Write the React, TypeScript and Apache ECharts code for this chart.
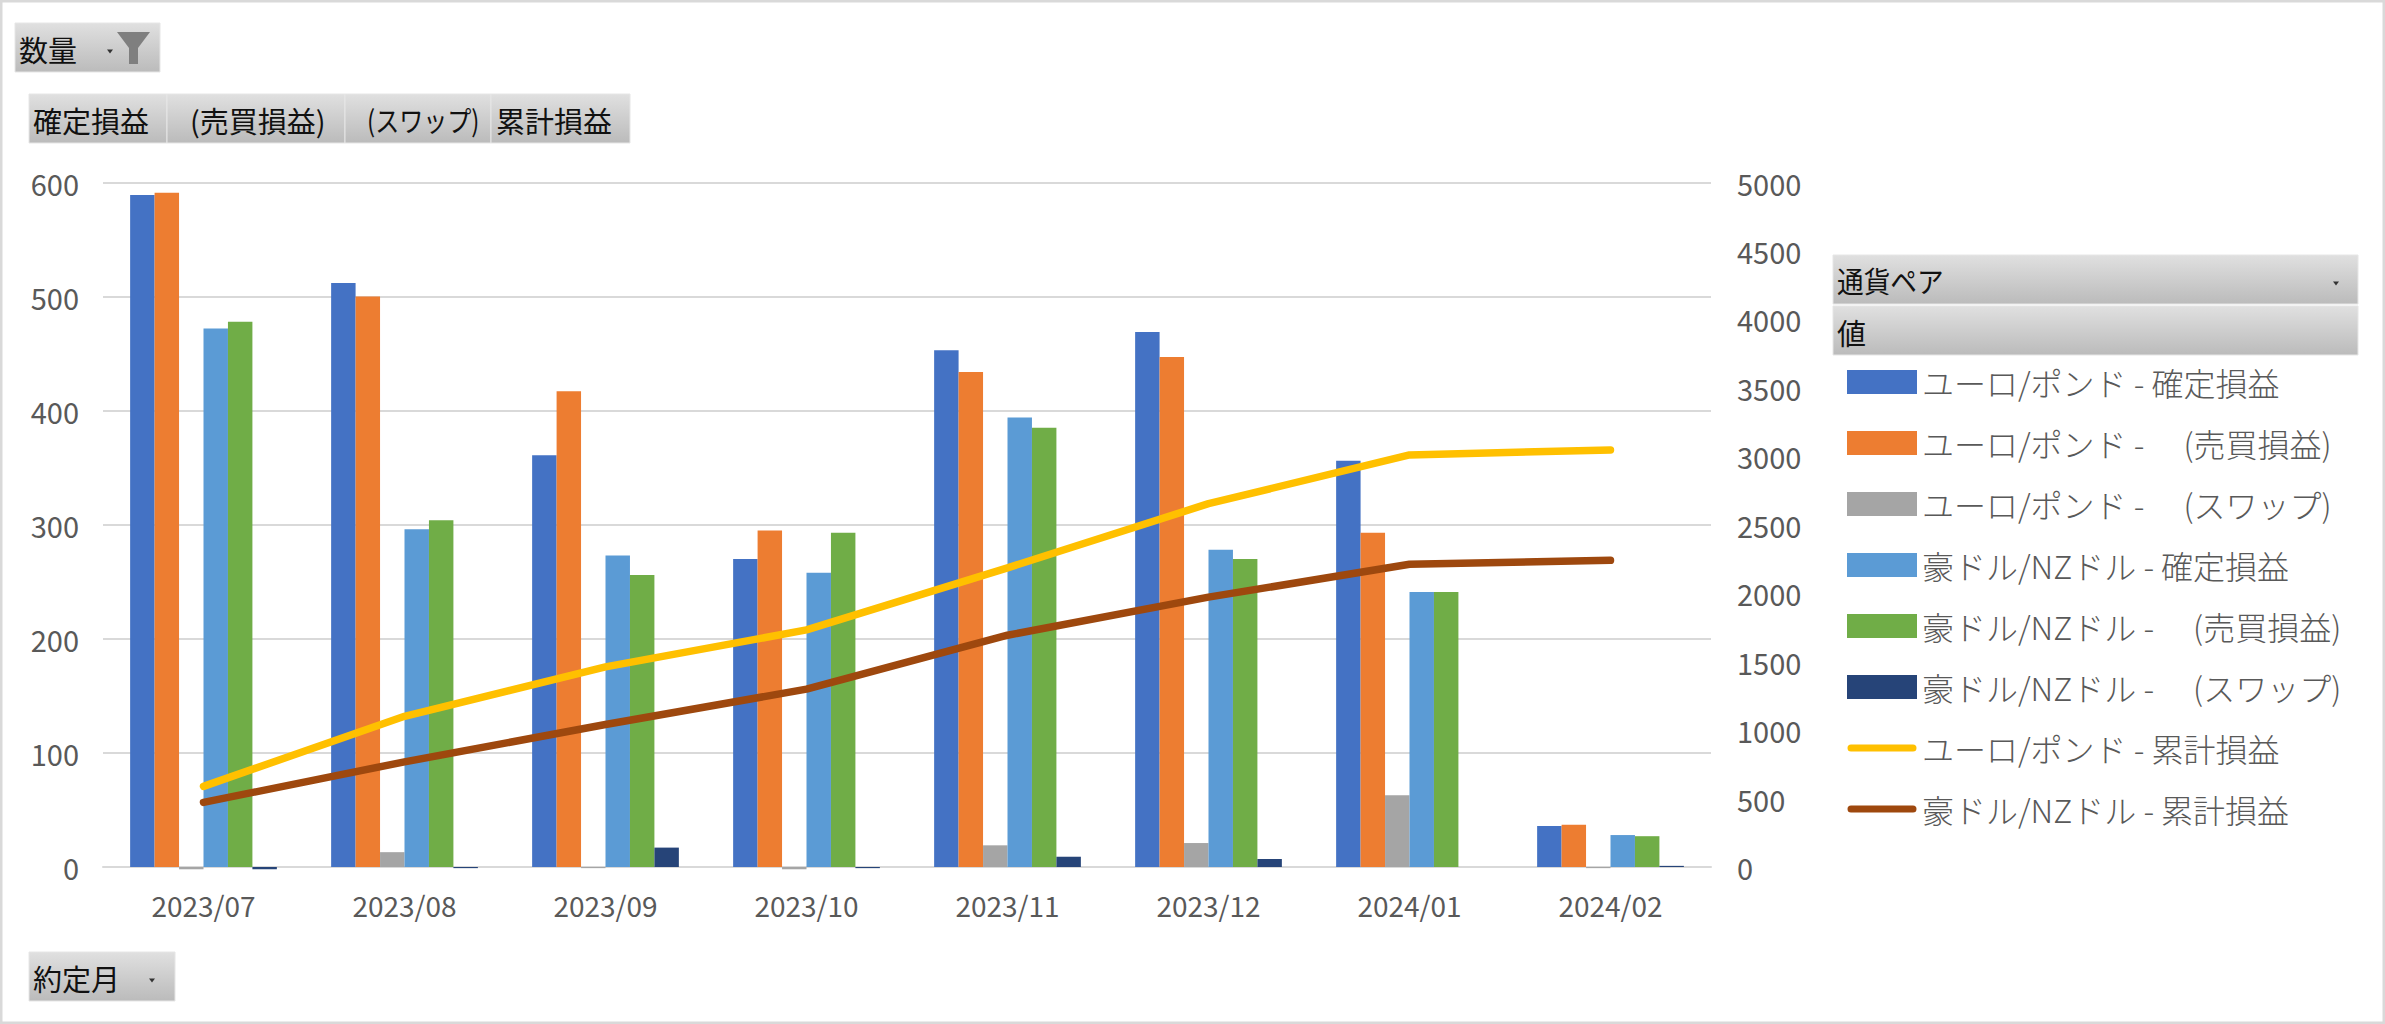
import React, { useEffect, useRef } from "react";
import * as echarts from "echarts";

const months = ["2023/07", "2023/08", "2023/09", "2023/10", "2023/11", "2023/12", "2024/01", "2024/02"];
const eurRealized = [589, 512, 361, 270, 453, 469, 356, 36];
const eurTrade = [591, 500, 417, 295, 434, 447, 293, 37];
const eurSwap = [-2, 13, -1, -2, 19, 21, 63, -1];
const audRealized = [472, 296, 273, 258, 394, 278, 241, 28];
const audTrade = [478, 304, 256, 293, 385, 270, 241, 27];
const audSwap = [-2, -1, 17, -1, 9, 7, 0, 1];
const eurCumulative = [589, 1101, 1462, 1732, 2185, 2654, 3010, 3046];
const audCumulative = [472, 768, 1041, 1299, 1693, 1971, 2212, 2240];

const FONT = '"Noto Sans CJK JP", "Noto Sans", sans-serif';

const barDefs: [string, number[], string][] = [
  ["ユーロ/ポンド - 確定損益", eurRealized, "#4472c4"],
  ["ユーロ/ポンド -　 (売買損益)", eurTrade, "#ed7d31"],
  ["ユーロ/ポンド -　 (スワップ)", eurSwap, "#a5a5a5"],
  ["豪ドル/NZドル - 確定損益", audRealized, "#5b9bd5"],
  ["豪ドル/NZドル -　 (売買損益)", audTrade, "#70ad47"],
  ["豪ドル/NZドル -　 (スワップ)", audSwap, "#264478"],
];
const lineDefs: [string, number[], string][] = [
  ["ユーロ/ポンド - 累計損益", eurCumulative, "#ffc000"],
  ["豪ドル/NZドル - 累計損益", audCumulative, "#9e480e"],
];

// Legend glyph: a thick rounded stroke centred in the swatch box; the two empty
// sub-paths hold the bounding box open so that the glyph is not stretched to fill it.
const LINE_ICON =
  "path://M0 0L0 0ZM4 8.5L66 8.5A3.5 3.5 0 0 1 66 15.5L4 15.5A3.5 3.5 0 0 1 4 8.5ZM70 24L70 24Z";

const grad = () =>
  new echarts.graphic.LinearGradient(0, 0, 0, 1, [
    { offset: 0, color: "#e0e0e0" },
    { offset: 1, color: "#bbbbbb" },
  ]);

function button(x: number, y: number, w: number, h: number, label: string, textX: number, arrowX?: number, sx = 1) {
  const els: any[] = [
    { type: "rect", shape: { x, y, width: w, height: h }, style: { fill: grad(), stroke: "#e6e6e6", lineWidth: 1 }, silent: true },
    {
      type: "text",
      x: textX,
      y: y + h / 2 + 1,
      scaleX: sx,
      style: { text: label, font: `29px ${FONT}`, fill: "#111111", textAlign: "left", textVerticalAlign: "middle" },
      silent: true,
    },
  ];
  if (arrowX !== undefined) {
    const ay = y + h / 2 + 4;
    els.push({
      type: "polygon",
      shape: { points: [[arrowX - 3, ay - 2], [arrowX + 3, ay - 2], [arrowX, ay + 2]] },
      style: { fill: "#333333" },
      silent: true,
    });
  }
  return els;
}

export default function App() {
  const ref = useRef<HTMLDivElement>(null);
  useEffect(() => {
    const chart = echarts.init(ref.current!, undefined, { renderer: "svg" });
    const axisLabel = { color: "#595959", fontSize: 29, fontFamily: FONT };
    chart.setOption({
      animation: false,
      backgroundColor: "#ffffff",
      grid: { left: 103, right: 2385 - 1711, top: 182.5, bottom: 1024 - 867, containLabel: false },
      legend: {
        orient: "vertical",
        left: 1847,
        top: 362,
        padding: 0,
        itemWidth: 70,
        itemHeight: 24,
        itemGap: 21,
        textStyle: { color: "#595959", fontSize: 32, fontFamily: FONT, fontWeight: 300, lineHeight: 40 },
        data: [
          ...barDefs.map((d) => ({ name: d[0], icon: "rect" })),
          ...lineDefs.map((d) => ({ name: d[0], icon: LINE_ICON })),
        ],
      },
      xAxis: {
        type: "category",
        data: months,
        axisLine: { lineStyle: { color: "#d9d9d9", width: 2 }, onZero: false },
        axisTick: { show: false },
        axisLabel: { ...axisLabel, fontSize: 28, margin: 24 },
      },
      yAxis: [
        {
          type: "value",
          min: 0,
          max: 600,
          interval: 100,
          axisLine: { show: false },
          axisTick: { show: false },
          axisLabel: { ...axisLabel, margin: 24 },
          splitLine: { lineStyle: { color: "#d9d9d9", width: 2 } },
        },
        {
          type: "value",
          min: 0,
          max: 5000,
          interval: 500,
          axisLine: { show: false },
          axisTick: { show: false },
          axisLabel: { ...axisLabel, margin: 26, formatter: (v: number) => String(v) },
          splitLine: { show: false },
        },
      ],
      series: [
        ...barDefs.map(([name, data, color]) => ({
          name,
          type: "bar",
          data,
          clip: false,
          barGap: "0%",
          barCategoryGap: "27%",
          itemStyle: { color },
        })),
        ...lineDefs.map(([name, data, color]) => ({
          name,
          type: "line",
          yAxisIndex: 1,
          data,
          symbol: "none",
          smooth: false,
          lineStyle: { color, width: 7.5, cap: "round", join: "round" },
          itemStyle: { color },
        })),
      ],
      graphic: {
        elements: [
          { type: "rect", z: -1, shape: { x: 1, y: 1, width: 2383, height: 1022 }, style: { fill: "none", stroke: "#d9d9d9", lineWidth: 3 }, silent: true },
          ...button(15, 23, 145, 49, "数量", 19, 110),
          {
            type: "polygon",
            shape: { points: [[117, 32], [150, 32], [138, 48], [138, 64], [129, 64], [129, 48]] },
            style: { fill: "#7f7f7f" },
            silent: true,
          },
          ...button(29, 94, 138, 49, "確定損益", 33),
          ...button(167, 94, 178, 49, "(売買損益)", 190),
          ...button(345, 94, 146, 49, "(スワップ)", 367, undefined, 0.83),
          ...button(491, 94, 139, 49, "累計損益", 496),
          ...button(1833, 255, 525, 49, "通貨ペア", 1837, 2336, 0.92),
          ...button(1833, 306, 525, 49, "値", 1837),
          ...button(29, 952, 146, 49, "約定月", 33, 152),
        ],
      },
    });
    return () => chart.dispose();
  }, []);
  return <div ref={ref} style={{ position: "absolute", left: 0, top: 0, width: 2385, height: 1024 }} />;
}
